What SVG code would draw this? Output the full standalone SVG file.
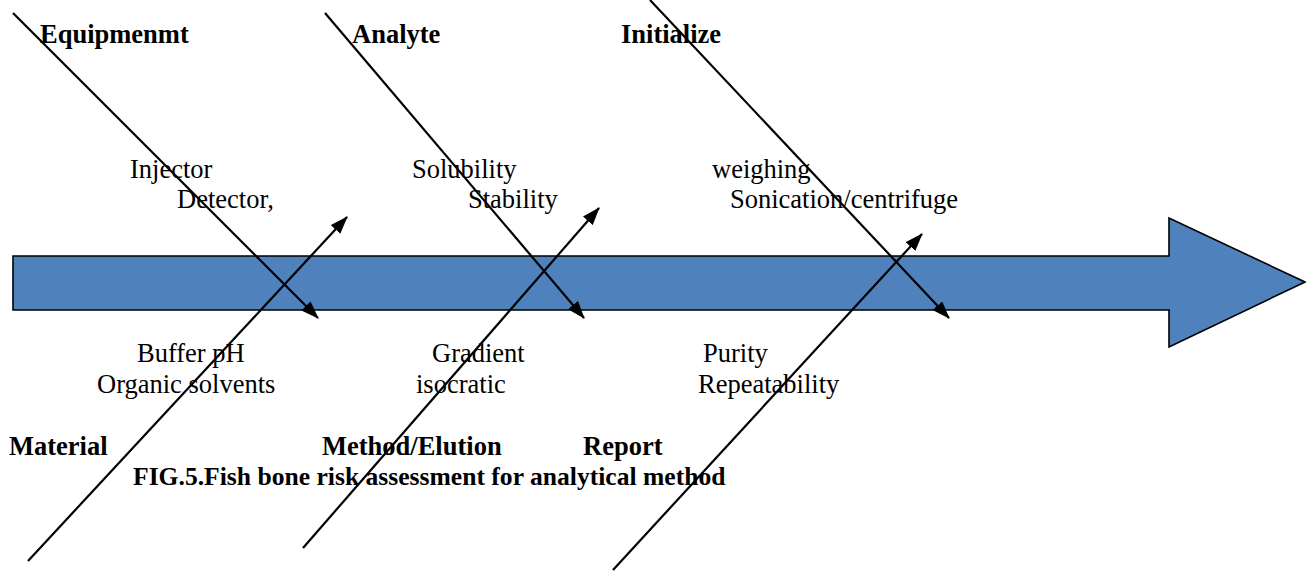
<svg xmlns="http://www.w3.org/2000/svg" width="1306" height="571" viewBox="0 0 1306 571">
<defs>
<style>
.lbl{font-family:"Liberation Serif","Times New Roman",serif;font-size:26.5px;fill:#000}
.b{font-weight:bold}
.bone{stroke:#000;stroke-width:2.2;fill:none}
</style>
<marker id="ah" viewBox="0 0 18 13" refX="17" refY="6.5" markerWidth="18" markerHeight="13" markerUnits="userSpaceOnUse" orient="auto">
<path d="M0,0 L18,6.5 L0,13 z" fill="#000"/>
</marker>
</defs>
<rect width="1306" height="571" fill="#fff"/>
<g id="spine">
<polygon points="13,256 1169,256 1169,218 1305,282 1169,347 1169,310 13,310" fill="#4F81BD" stroke="#000" stroke-width="1.6"/>
</g>
<g id="connectors">
<line class="bone" x1="13" y1="13" x2="318" y2="318" marker-end="url(#ah)"/>
<line class="bone" x1="325" y1="13" x2="584" y2="318" marker-end="url(#ah)"/>
<line class="bone" x1="650" y1="0" x2="949" y2="318" marker-end="url(#ah)"/>
<line class="bone" x1="28" y1="561" x2="347" y2="217" marker-end="url(#ah)"/>
<line class="bone" x1="303" y1="548" x2="599" y2="208" marker-end="url(#ah)"/>
<line class="bone" x1="613" y1="570" x2="922" y2="234" marker-end="url(#ah)"/>
</g>
<g id="equipment">
<text class="lbl b" x="40" y="43">Equipmenmt</text>
<text class="lbl" x="130" y="178">Injector</text>
<text class="lbl" x="177" y="208">Detector,</text>
</g>
<g id="analyte">
<text class="lbl b" x="352" y="43">Analyte</text>
<text class="lbl" x="412" y="178">Solubility</text>
<text class="lbl" x="468" y="208">Stability</text>
</g>
<g id="initialize">
<text class="lbl b" x="621" y="43">Initialize</text>
<text class="lbl" x="712" y="178">weighing</text>
<text class="lbl" x="730" y="208">Sonication/centrifuge</text>
</g>
<g id="material">
<text class="lbl" x="137" y="362">Buffer pH</text>
<text class="lbl" x="97" y="393">Organic solvents</text>
<text class="lbl b" x="9" y="455">Material</text>
</g>
<g id="method">
<text class="lbl" x="432" y="362">Gradient</text>
<text class="lbl" x="416" y="393">isocratic</text>
<text class="lbl b" x="322" y="455">Method/Elution</text>
</g>
<g id="report">
<text class="lbl" x="703" y="362">Purity</text>
<text class="lbl" x="698" y="393">Repeatability</text>
<text class="lbl b" x="583" y="455">Report</text>
</g>
<g id="caption">
<text class="lbl b" x="133" y="485" style="font-size:25.6px">FIG.5.Fish bone risk assessment for analytical method</text>
</g>
</svg>
